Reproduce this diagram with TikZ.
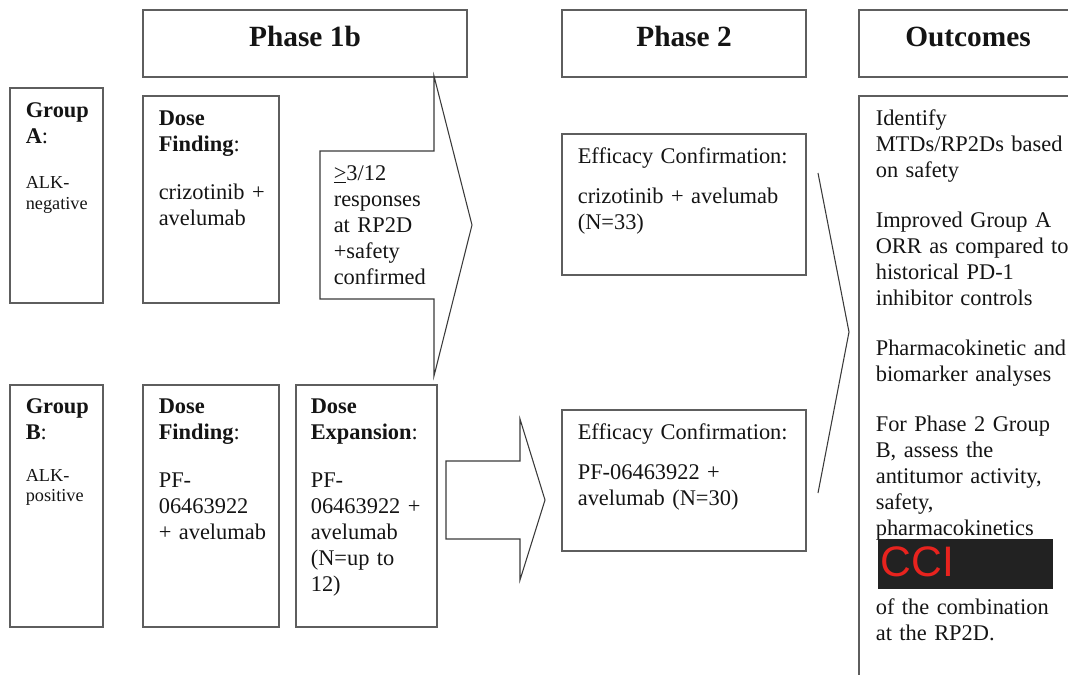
\documentclass[tikz,border=0pt]{standalone}
\usepackage{fontspec}
\setmainfont{Liberation Serif}
\newfontfamily\cciFont{Liberation Sans}
\usetikzlibrary{fit, positioning}
\definecolor{cframe}{HTML}{5E5E5E}
\definecolor{cline}{HTML}{3A3A3A}
\definecolor{ctext}{HTML}{141414}
\definecolor{cred}{HTML}{E8231E}
\definecolor{cblack}{HTML}{222222}
\newcommand{\alksize}{\fontsize{13.7}{15.7}\selectfont}
\tikzset{
  every picture/.style={line width=1.2pt},
  frame/.style={draw=cframe, inner sep=0pt},
  txt/.style={anchor=base west, inner sep=0pt, align=left, text width=240pt, text=ctext,
              font=\fontsize{16.8}{19.5}\selectfont},
  head/.style={anchor=base, inner sep=0pt, text=ctext, font=\fontsize{22}{26}\selectfont\bfseries},
  arrowshape/.style={draw=cline, line width=0.8pt, line join=miter},
  redact/.style={fill=cblack, inner sep=0pt},
}
\begin{document}
\begin{tikzpicture}[x=0.75pt, y=-0.75pt]
  \useasboundingbox (0,0) rectangle (1068,675);
  % column headers
  \node[frame, fit={(143,10) (467,77)}] (ph1) {};
  \node[frame, fit={(562,10) (806,77)}] (ph2) {};
  \node[frame, fit={(859,10) (1080,77)}] (out) {};
  \node[head] (ph1t) at (305,46) {Phase 1b};
  \node[head] (ph2t) at (684,46) {Phase 2};
  \node[head] (outt) at (968,46) {Outcomes};

  % group A row
  \node[frame, fit={(10,88) (103,303)}] (grpA) {};
  \node[frame, fit={(143,96) (279,303)}] (dfA) {};
  \node[txt] (grpAt) at (25,117) {\textbf{Group}\\\textbf{A}:\\[14.8pt]{\alksize ALK-}\\[-4pt]{\alksize negative}};
  \node[txt] (dfAt) at (158,125) {\textbf{Dose}\\\textbf{Finding}:\\[17pt]crizotinib +\\avelumab};

  % group B row
  \node[frame, fit={(10,385) (103,627)}] (grpB) {};
  \node[frame, fit={(143,385) (279,627)}] (dfB) {};
  \node[frame, fit={(296,385) (437,627)}] (dex) {};
  \node[txt] (grpBt) at (25,413) {\textbf{Group}\\\textbf{B}:\\[12pt]{\alksize ALK-}\\[-4pt]{\alksize positive}};
  \node[txt] (dfBt) at (158,413) {\textbf{Dose}\\\textbf{Finding}:\\[16.5pt]PF-\\06463922\\+ avelumab};
  \node[txt] (dext) at (310,413) {\textbf{Dose}\\\textbf{Expansion}:\\[16.5pt]PF-\\06463922 +\\avelumab\\(N=up to\\12)};

  % callout arrow from dose finding A to dose expansion
  \draw[arrowshape] (320,151) -- (434,151) -- (434,76) -- (472,225) -- (434,376)
    -- (434,299) -- (320,299) -- cycle;
  \node[txt] (gate) at (333,180) {\underline{>}3/12\\responses\\at RP2D\\+safety\\confirmed};

  % phase 2 boxes
  \node[frame, fit={(562,134) (806,275)}] (effA) {};
  \node[frame, fit={(562,410) (806,551)}] (effB) {};
  \node[txt] (effAt) at (577,163) {Efficacy Confirmation:\\[10.5pt]crizotinib + avelumab\\(N=33)};
  \node[txt] (effBt) at (577,439) {Efficacy Confirmation:\\[10.5pt]PF-06463922 +\\avelumab (N=30)};

  % block arrow into phase 2 group B
  \draw[arrowshape] (446,461) -- (520,461) -- (520,419) -- (545,500) -- (520,580)
    -- (520,539) -- (446,539) -- cycle;
  % chevron to outcomes
  \draw[arrowshape] (818,173) -- (849,332) -- (818,493);

  % outcomes
  \node[frame, fit={(859,96) (1080,690)}] (outc) {};
  \node[txt] (outct) at (875,125) {Identify\\MTDs/RP2Ds based\\on safety\\[18pt]Improved Group A\\ORR as compared to\\historical PD-1\\inhibitor controls\\[18pt]Pharmacokinetic and\\biomarker analyses\\[18pt]For Phase 2 Group\\B, assess the\\antitumor activity,\\safety,\\pharmacokinetics\\[40pt]of the combination\\at the RP2D.};
  \node[redact, fit={(878,539) (1053,589)}] (cci) {};
  \node[anchor=base west, inner sep=0pt, text=cred, font=\cciFont\fontsize{32}{32}\selectfont] (ccit) at (880,576) {CCI};
\end{tikzpicture}
\end{document}
